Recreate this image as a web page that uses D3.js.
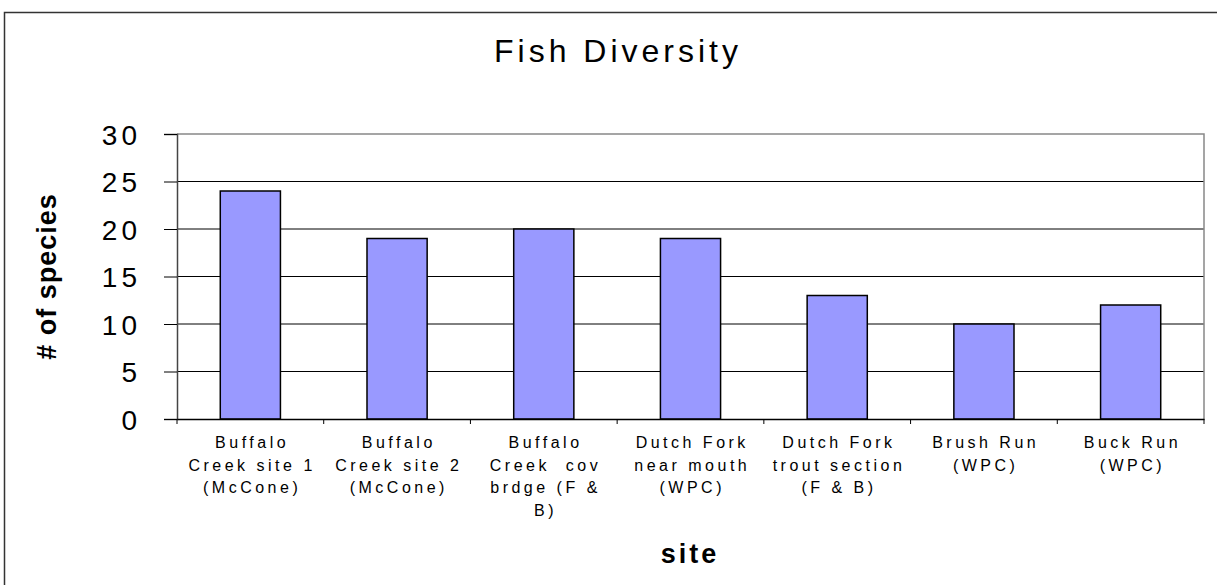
<!DOCTYPE html>
<html><head><meta charset="utf-8">
<script src="https://cdn.jsdelivr.net/npm/d3@7"></script>
<style>body{margin:0;background:#fff;} text{font-family:"Liberation Sans",Arial,sans-serif;fill:#000;}</style>
</head><body><svg id="c" width="1217" height="585"></svg>
<script>
const categories = [
  "Buffalo\nCreek site 1\n(McCone)",
  "Buffalo\nCreek site 2\n(McCone)",
  "Buffalo\nCreek  cov\nbrdge (F &\nB)",
  "Dutch Fork\nnear mouth\n(WPC)",
  "Dutch Fork\ntrout section\n(F & B)",
  "Brush Run\n(WPC)",
  "Buck Run\n(WPC)"
];
const species = [24, 19, 20, 19, 13, 10, 12];
const yTicks = [0, 5, 10, 15, 20, 25, 30];
const title = "Fish Diversity";
const xTitle = "site";
const yTitle = "# of species";

const svg = d3.select("#c");
const L = 177, R = 1204, T = 134, B = 419;

// outer chart border
svg.append("rect").attr("x", 4.5).attr("y", 12.5).attr("width", 1230).attr("height", 600)
  .attr("fill", "none").attr("stroke", "#333").attr("stroke-width", 1.5);

const x = d3.scaleBand().domain(categories).range([L, R]).padding(0);
const y = d3.scaleLinear().domain([0, 30]).range([B, T]);

// gridlines
svg.append("g").selectAll("line").data(yTicks.filter(d => d > 0 && d < 30)).join("line")
  .attr("x1", L).attr("x2", R).attr("y1", d => y(d)).attr("y2", d => y(d))
  .attr("stroke", "#000").attr("stroke-width", 1);
// plot border top/right
svg.append("path").attr("d", `M${L},${y(30)}H${R}V${B}`).attr("fill", "none")
  .attr("stroke", "#888").attr("stroke-width", 1.5);

// bars
const bw = x.bandwidth() * 0.41;
svg.append("g").selectAll("rect").data(species).join("rect")
  .attr("x", (d, i) => x(categories[i]) + (x.bandwidth() - bw) / 2)
  .attr("width", bw)
  .attr("y", d => y(d))
  .attr("height", d => y(0) - y(d))
  .attr("fill", "#9999FF").attr("stroke", "#000").attr("stroke-width", 1.5);

// y axis
const yAxis = d3.axisLeft(y).tickValues(yTicks).tickSize(13).tickPadding(0).tickFormat(d3.format("d"));
const gy = svg.append("g").attr("transform", `translate(${L},0)`).call(yAxis);
gy.select(".domain").attr("stroke", "#444").attr("stroke-width", 1.5);
gy.selectAll(".tick line").attr("stroke", "#000");
gy.selectAll(".tick text").attr("x", -40 + 4).attr("dy", "0.36em")
  .style("font-size", "28px").style("letter-spacing", "4px")
  .style("font-family", '"Liberation Sans",Arial,sans-serif').attr("fill", "#000");

// x axis
const xAxis = d3.axisBottom(x).tickSize(0).tickFormat("");
const gx = svg.append("g").attr("transform", `translate(0,${B})`).call(xAxis);
gx.select(".domain").attr("stroke", "#000").attr("stroke-width", 1.5);
// category separator ticks
svg.append("g").selectAll("line").data(d3.range(categories.length + 1)).join("line")
  .attr("x1", i => L + i * x.step()).attr("x2", i => L + i * x.step())
  .attr("y1", B).attr("y2", B + 5).attr("stroke", "#000").attr("stroke-width", 1);

// category labels
const lab = svg.append("g").selectAll("text").data(categories).join("text")
  .attr("text-anchor", "middle")
  .style("font-size", "16px").style("letter-spacing", "3.5px");
lab.each(function(d) {
  const t = d3.select(this);
  d.split("\n").forEach((line, k) => {
    t.append("tspan").attr("x", x(d) + x.bandwidth() / 2 + 1.75).attr("y", 448 + k * 22.5)
      .attr("xml:space", "preserve").text(line);
  });
});

// title
svg.append("text").attr("x", 618).attr("y", 62).attr("text-anchor", "middle")
  .style("font-size", "32px").style("letter-spacing", "4px").text(title);
// x title
svg.append("text").attr("x", 690).attr("y", 563).attr("text-anchor", "middle")
  .style("font-size", "27px").style("font-weight", "bold").style("letter-spacing", "3px").text(xTitle);
// y title
svg.append("text").attr("transform", `translate(56,${(T + B) / 2}) rotate(-90)`).attr("text-anchor", "middle")
  .style("font-size", "27px").style("font-weight", "bold").style("letter-spacing", "1px").text(yTitle);
</script></body></html>
